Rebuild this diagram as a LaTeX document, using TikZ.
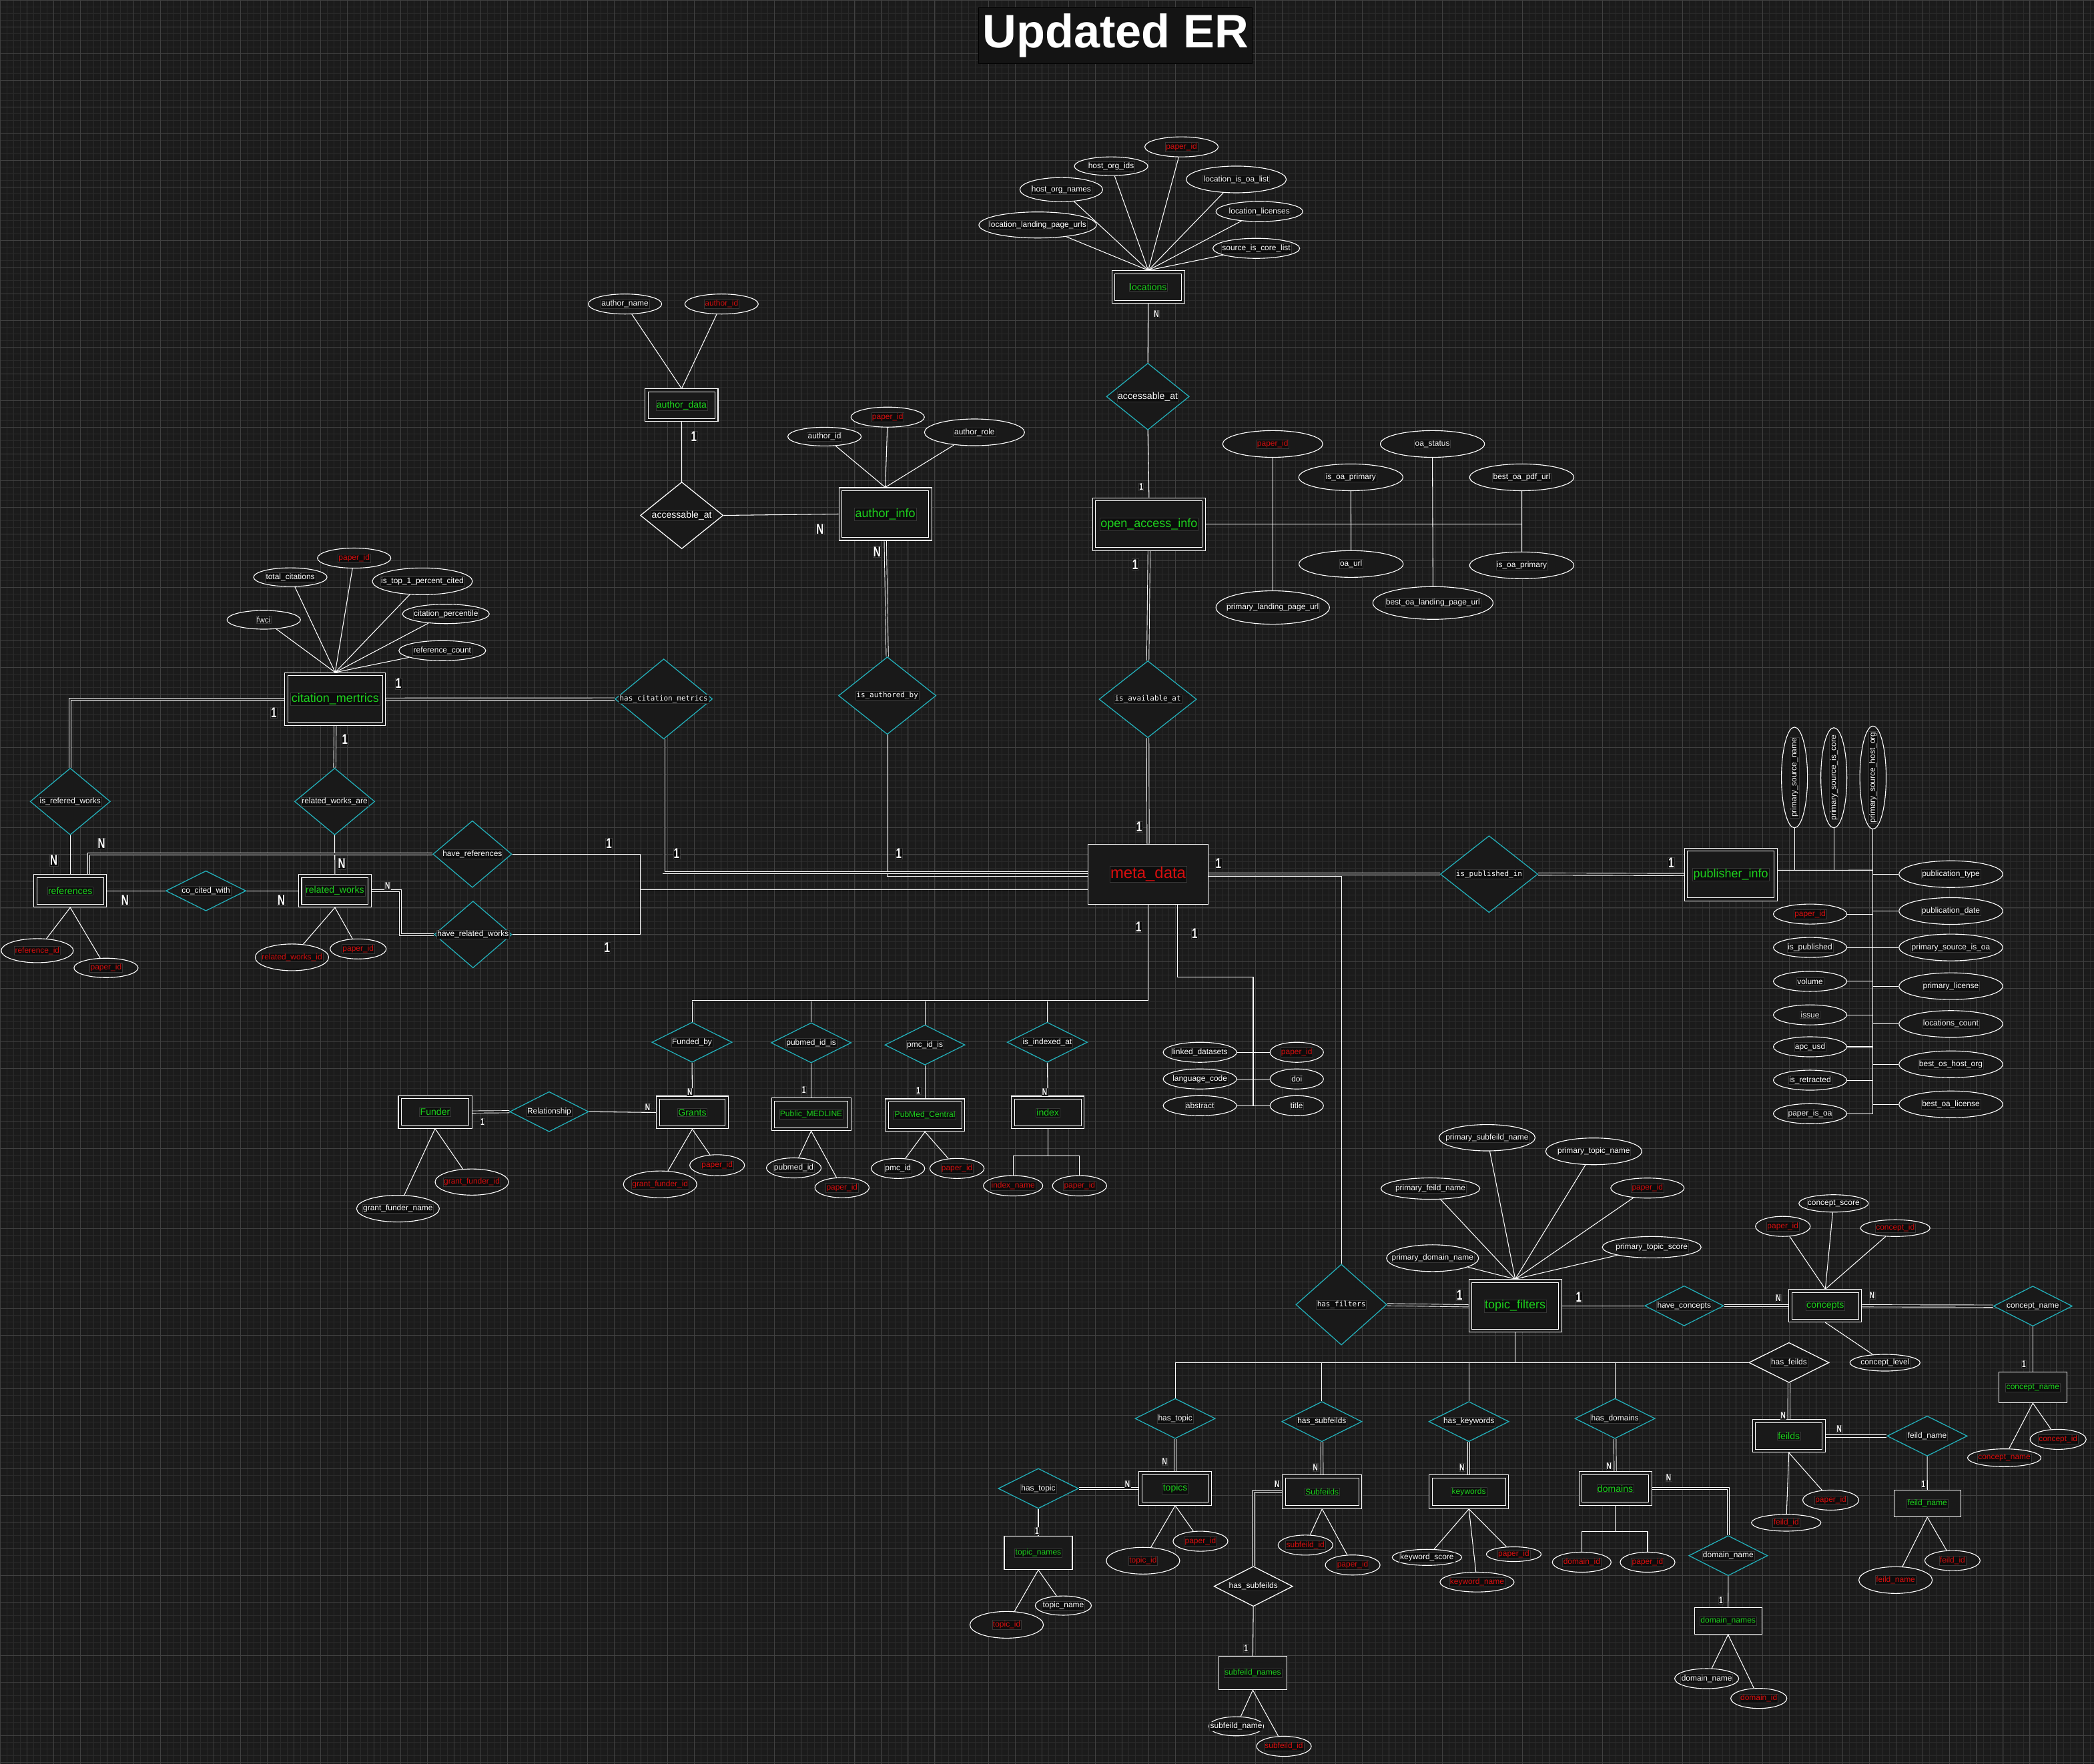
\documentclass[tikz,border=0pt]{standalone}
\usepackage{fontspec}
\usepackage{graphicx}
\setmainfont{Liberation Sans}
\newfontfamily\monofont{DejaVu Sans Mono}
\usetikzlibrary{shapes.geometric}
\definecolor{bgc}{RGB}{27,27,27}
\definecolor{shp}{RGB}{25,25,25}
\definecolor{gmin}{RGB}{42,42,42}
\definecolor{gmaj}{RGB}{64,64,64}
\definecolor{lbg}{RGB}{12,12,12}
\definecolor{lbd}{RGB}{55,55,55}
\definecolor{grn}{RGB}{30,210,30}
\definecolor{rd}{RGB}{215,15,15}
\definecolor{cy}{RGB}{35,175,185}
\definecolor{ttlbg}{RGB}{20,20,20}
\newcommand\sq[1]{\scalebox{0.72}[1]{#1}}
\newcommand\fE{\fontsize{12.8}{13}\selectfont}
\newcommand\fS{\fontsize{8.6}{9}\selectfont}
\newcommand\fR{\fontsize{10}{11}\selectfont}
\newcommand\fM{\monofont\fontsize{7.8}{8}\selectfont}
\pgfdeclarelayer{back}
\pgfdeclarelayer{lines}
\pgfsetlayers{back,lines,main}
\tikzset{
  lab/.style={fill=lbg, draw=lbd, line width=0.3pt, inner sep=0.8pt, text=white},
  fa/.style={font=\fontsize{8.5}{9}\selectfont},
  fe/.style={font=\fontsize{10}{11}\selectfont},
  attrG/.style n args={4}{ellipse, draw=white, line width=0.8pt, fill=shp, minimum width={#1*0.05cm}, minimum height={#2*0.05cm}, inner sep=0pt, label={[lab,fa,text=#4]center:#3}},
  attrA/.style n args={3}{attrG={#1}{#2}{#3}{white}},
  attrK/.style n args={3}{attrG={#1}{#2}{#3}{rd}},
  attrV/.style n args={3}{ellipse, draw=white, line width=0.8pt, fill=shp, minimum width={#1*0.05cm}, minimum height={#2*0.05cm}, inner sep=0pt, label={[lab,fa,rotate=90]center:#3}},
  relG/.style n args={4}{diamond, draw=#4, line width=0.9pt, fill=shp, minimum width={#1*0.05cm}, minimum height={#2*0.05cm}, inner sep=0pt, label={[lab,fa]center:#3}},
  relC/.style n args={3}{relG={#1}{#2}{#3}{cy}},
  relW/.style n args={3}{relG={#1}{#2}{#3}{white}},
  entD/.style n args={3}{rectangle, draw=white, line width=0.75pt, double=shp, double distance=2.5pt, fill=shp, minimum width={#1*0.05cm-4pt}, minimum height={#2*0.05cm-4pt}, inner sep=0pt, outer sep=2pt, label={[lab,fe,text=grn]center:#3}},
  entS/.style n args={3}{rectangle, draw=white, line width=0.85pt, fill=shp, minimum width={#1*0.05cm}, minimum height={#2*0.05cm}, inner sep=0pt, label={[lab,fe,text=grn]center:#3}},
  ln/.style={draw=white, line width=0.75pt},
  dl/.style={draw=white, line width=0.65pt, double=bgc, double distance=1.7pt},
  cb/.style={lab, font=\fontsize{15}{15}\selectfont\bfseries, inner sep=0.6pt},
  cs/.style={lab, font=\fontsize{10}{10}\selectfont\bfseries, inner sep=0.5pt},
}
\begin{document}
\begin{tikzpicture}[x=0.05cm,y=-0.05cm]
\useasboundingbox (0,0) rectangle (1568,1321);
\begin{pgfonlayer}{back}
\fill[bgc] (0,0) rectangle (1568,1321);
\begin{scope}[x=1cm,y=1cm]
\draw[gmin, line width=0.35pt, step=0.25cm] (0,-66.05) grid (78.4,0);
\draw[gmaj, line width=0.5pt, step=1cm] (0,-66.05) grid (78.4,0);
\end{scope}
\end{pgfonlayer}

% ---------- title
\node[fill=ttlbg, draw=black, line width=0.5pt, minimum width={205*0.05cm}, minimum height={42*0.05cm}, inner sep=0pt, text=white, font=\fontsize{50}{50}\selectfont\bfseries] (title) at (835.3,26.5) {Updated ER};

% ---------- locations
\node[entD={55}{25}{locations}] (loc) at (859.8,215) {};
\node[attrK={55}{15}{paper\_id}] (lpid) at (884.7,110) {};
\node[attrA={55}{14}{host\_org\_ids}] (lhoi) at (832,124.5) {};
\node[attrA={62}{18}{host\_org\_names}] (lhon) at (794.7,142) {};
\node[attrA={88}{19.5}{location\_landing\_page\_urls}] (llpu) at (777,168.5) {};
\node[attrA={75}{20}{location\_is\_oa\_list}] (lioa) at (925.7,134.4) {};
\node[attrA={65}{15}{location\_licenses}] (llic) at (943,158.4) {};
\node[attrA={65}{15}{source\_is\_core\_list}] (lsic) at (940.7,186) {};
\node[relC={62}{50}{\fR accessable\_at}] (acc1) at (859.5,297) {};

% ---------- open access info
\node[entD={85}{40}{\fE open\_access\_info}] (oai) at (860.4,392.6) {};
\node[attrK={75}{20}{paper\_id}] (opid) at (953,332.5) {};
\node[attrA={78}{20}{oa\_status}] (oast) at (1072.6,332.5) {};
\node[attrA={78}{20}{is\_oa\_primary}] (iop1) at (1011.5,357.5) {};
\node[attrA={78}{20}{best\_oa\_pdf\_url}] (bopu) at (1139.5,357.5) {};
\node[attrA={78}{20}{oa\_url}] (oaurl) at (1011.7,422.4) {};
\node[attrA={78}{20}{is\_oa\_primary}] (iop2) at (1139.5,423.4) {};
\node[attrA={85}{25}{primary\_landing\_page\_url}] (plpu) at (953,455) {};
\node[attrA={90}{24.5}{best\_oa\_landing\_page\_url}] (bolp) at (1073,451.6) {};

% ---------- authors
\node[attrA={55}{15}{author\_name}] (an) at (468,227.7) {};
\node[attrK={55}{15}{author\_id}] (aid) at (540.3,227.7) {};
\node[entD={55}{25}{author\_data}] (ad) at (510.4,303.5) {};
\node[relW={62}{50}{\fR accessable\_at}] (acc2) at (510.5,386) {};
\node[entD={70}{40}{\fE author\_info}] (ai) at (662.9,385) {};
\node[attrA={55}{14}{author\_id}] (aid2) at (617.4,327) {};
\node[attrK={55}{15}{paper\_id}] (apid) at (664.7,312.4) {};
\node[attrA={75}{20}{author\_role}] (arol) at (729.7,323.8) {};
\node[relC={73}{58}{\fM is\_authored\_by}] (iab) at (664.4,521) {};

% ---------- citation metrics
\node[entD={76}{40}{\fE citation\_mertrics}] (cm) at (251,523.6) {};
\node[attrK={55}{15}{paper\_id}] (cpid) at (265.2,418) {};
\node[attrA={55}{14}{total\_citations}] (ctc) at (217.4,432.3) {};
\node[attrA={75}{20}{is\_top\_1\_percent\_cited}] (ctop) at (316.3,435.4) {};
\node[attrA={55}{14}{fwci}] (cfw) at (197.5,464.2) {};
\node[attrA={65}{14.5}{citation\_percentile}] (cper) at (333.9,459.8) {};
\node[attrA={65}{15}{reference\_count}] (crc) at (331.2,487.3) {};
\node[relC={73}{60}{\fM has\_citation\_metrics}] (hcm) at (497,523.5) {};
\node[relC={60}{50}{is\_refered\_works}] (irw) at (52.6,600.3) {};
\node[relC={60}{50}{related\_works\_are}] (rwa) at (250.6,600.3) {};
\node[entD={55}{25}{references}] (ref) at (52.6,667.2) {};
\node[entD={55}{25}{related\_works}] (rw) at (250.8,667.2) {};
\node[relC={60}{30}{co\_cited\_with}] (cc) at (154.2,667.2) {};
\node[relC={59}{50}{have\_references}] (hr) at (353.7,639.7) {};
\node[relC={58}{50}{have\_related\_works}] (hrw) at (354.2,699.9) {};
\node[attrK={54}{18}{reference\_id}] (rfid) at (27.9,712) {};
\node[attrK={48}{14.5}{paper\_id}] (rfpid) at (79.4,724.9) {};
\node[attrK={55}{20}{related\_works\_id}] (rwid) at (218.6,717) {};
\node[attrK={42}{15}{paper\_id}] (rwpid) at (268.2,710.7) {};

% ---------- meta data
\node[relC={73}{57.5}{\fM is\_available\_at}] (iaa) at (859.5,523.7) {};
\node[entS={90}{45}{\fontsize{17}{18}\selectfont\textcolor{rd}{meta\_data}}] (md) at (859.7,654.7) {};
\node[relC={73}{57.5}{\fM is\_published\_in}] (ipi) at (1115,654.7) {};
\node[entD={70}{40}{\fE publisher\_info}] (pub) at (1296,655) {};

% ---------- publisher attributes
\node[attrV={19.5}{75.4}{primary\_source\_name}] (psn) at (1343.7,582.3) {};
\node[attrV={19.5}{75}{primary\_source\_is\_core}] (psic) at (1373.2,582.5) {};
\node[attrV={19.7}{77}{primary\_source\_host\_org}] (psho) at (1402.5,582.3) {};
\node[attrA={77.6}{20}{publication\_type}] (pt) at (1460.8,654.7) {};
\node[attrA={77.6}{20}{publication\_date}] (pd) at (1460.8,682.3) {};
\node[attrA={77.6}{20}{primary\_source\_is\_oa}] (psoa) at (1460.8,709.6) {};
\node[attrA={77.6}{20}{primary\_license}] (pl) at (1460.8,738.6) {};
\node[attrA={77.6}{20}{locations\_count}] (lcn) at (1460.8,766.9) {};
\node[attrA={77.6}{20}{best\_os\_host\_org}] (bos) at (1460.8,797.1) {};
\node[attrA={77.6}{20}{best\_oa\_license}] (bol) at (1460.8,827.1) {};
\node[attrK={55}{15}{paper\_id}] (ppid) at (1355.4,684.6) {};
\node[attrA={55}{15}{is\_published}] (isp) at (1355.4,709.6) {};
\node[attrA={55}{15}{volume}] (vol) at (1355.4,735) {};
\node[attrA={55}{15}{issue}] (iss) at (1355.4,760.1) {};
\node[attrA={55}{15}{apc\_usd}] (apc) at (1355.4,784) {};
\node[attrA={55}{15}{is\_retracted}] (isr) at (1355.4,809) {};
\node[attrA={55}{15}{paper\_is\_oa}] (pio) at (1355.4,834.1) {};

% ---------- meta data lower
\node[relC={60}{30}{Funded\_by}] (fb) at (518.2,780.6) {};
\node[relC={60}{30}{pubmed\_id\_is}] (pmi) at (607.4,781) {};
\node[relC={60}{30}{pmc\_id\_is}] (pci) at (692.6,782.6) {};
\node[relC={60}{30}{is\_indexed\_at}] (iia) at (784.2,780.6) {};
\node[entD={55.5}{25}{Funder}] (fu) at (325.8,832.8) {};
\node[relC={59}{30}{Relationship}] (rel) at (411.2,832.6) {};
\node[entD={54.5}{25}{Grants}] (gr) at (518.4,833.2) {};
\node[entD={60}{25}{\fS Public\_MEDLINE}] (pm) at (607.4,834.6) {};
\node[entD={60}{25}{\fS PubMed\_Central}] (pc) at (692.6,835.2) {};
\node[entD={55}{25}{index}] (idx) at (784.6,833.2) {};
\node[attrK={55}{19.6}{grant\_funder\_id}] (gfi) at (353.3,885.3) {};
\node[attrA={62}{20}{grant\_funder\_name}] (gfn) at (298,905.2) {};
\node[attrK={55}{20}{grant\_funder\_id}] (ggfi) at (494.3,887) {};
\node[attrK={41}{15.7}{paper\_id}] (gpid) at (537,872.7) {};
\node[attrA={41}{15}{pubmed\_id}] (pmid) at (594.4,874.7) {};
\node[attrK={40.6}{15}{paper\_id}] (pmpid) at (630.5,889.5) {};
\node[attrA={40}{15}{pmc\_id}] (pcid) at (672.4,875.1) {};
\node[attrK={40.6}{15}{paper\_id}] (pcpid) at (716.6,875.1) {};
\node[attrK={44.5}{15.2}{index\_name}] (ixn) at (758.6,888.1) {};
\node[attrK={40.6}{15.2}{paper\_id}] (ixp) at (808.4,888.1) {};
\node[attrA={55}{15}{linked\_datasets}] (lda) at (898.5,788.1) {};
\node[attrA={55}{15}{language\_code}] (lcd) at (898.5,808.1) {};
\node[attrA={55}{15}{abstract}] (abs) at (898.5,828.1) {};
\node[attrK={40}{15}{paper\_id}] (mpid) at (971,788.1) {};
\node[attrA={40}{15}{doi}] (doi) at (971,808.1) {};
\node[attrA={40}{15}{title}] (ttl) at (971,828.1) {};

% ---------- topic filters
\node[relC={68}{60.5}{\fM has\_filters}] (hf) at (1004.4,977.1) {};
\node[entD={70}{40}{\fE topic\_filters}] (tf) at (1134.6,978) {};
\node[attrA={72}{19.7}{primary\_subfeild\_name}] (tpsn) at (1113.5,852.1) {};
\node[attrA={72}{20}{primary\_topic\_name}] (tptn) at (1193.4,862.3) {};
\node[attrA={74}{16}{primary\_feild\_name}] (tpfn) at (1071.1,890.2) {};
\node[attrK={55}{15}{paper\_id}] (tpid) at (1233.6,889.8) {};
\node[attrA={74}{16}{primary\_topic\_score}] (tpts) at (1236.8,934.1) {};
\node[attrA={69}{20}{primary\_domain\_name}] (tpdn) at (1072.7,942.3) {};
\node[relC={59}{30}{have\_concepts}] (hc) at (1261.1,978) {};
\node[entD={55}{25}{concepts}] (con) at (1366.8,978) {};
\node[relC={59}{30}{concept\_name}] (cn) at (1522.2,978.2) {};
\node[entS={51}{23}{\fS concept\_name}] (cne) at (1522.2,1039.1) {};
\node[attrA={52}{13}{concept\_score}] (csc) at (1373,901.3) {};
\node[attrK={41}{15}{paper\_id}] (cpid2) at (1335,918.5) {};
\node[attrK={52}{12.5}{concept\_id}] (cid) at (1419.2,919.8) {};
\node[attrA={52.5}{12.5}{concept\_level}] (clv) at (1411.5,1020.6) {};
\node[attrK={55}{13.3}{concept\_name}] (cnn) at (1500.8,1091.8) {};
\node[attrK={42}{15}{concept\_id}] (cni) at (1541.1,1078) {};
\node[relW={60}{30}{has\_feilds}] (hfd) at (1339.6,1020.5) {};
\node[entD={55}{25}{feilds}] (fd) at (1339.5,1075.5) {};
\node[relC={60}{30}{feild\_name}] (fn) at (1443.1,1075.5) {};
\node[entS={50}{20}{\fS feild\_name}] (fne) at (1443.2,1126) {};
\node[attrK={42}{15}{paper\_id}] (fpid) at (1370.9,1123.5) {};
\node[attrK={52}{12.5}{feild\_id}] (fid) at (1337.5,1140.5) {};
\node[attrK={55}{20}{feild\_name}] (fnn) at (1419.4,1183.4) {};
\node[attrK={41.4}{15}{feild\_id}] (fni) at (1462,1168.8) {};

% ---------- bottom
\node[relC={60}{30}{has\_topic}] (ht) at (880,1062.4) {};
\node[relC={60}{30}{has\_subfeilds}] (hsf) at (989.8,1064.7) {};
\node[relC={60}{30}{has\_keywords}] (hk) at (1099.9,1064.7) {};
\node[relC={60}{30}{has\_domains}] (hd) at (1209.3,1062.4) {};
\node[entD={55}{25.6}{topics}] (tp) at (880,1114.8) {};
\node[entD={60}{25.7}{\fS Subfeilds}] (sf) at (990,1117.3) {};
\node[entD={60}{25.7}{\fS keywords}] (kw) at (1099.9,1117.3) {};
\node[entD={55}{25.6}{domains}] (dm) at (1209.5,1114.8) {};
\node[relC={60}{30}{has\_topic}] (ht2) at (777.5,1114.8) {};
\node[entS={51}{25}{\fS topic\_names}] (tn) at (777.5,1163) {};
\node[attrK={55}{20}{topic\_id}] (tni) at (753.8,1216.9) {};
\node[attrA={42}{14.4}{topic\_name}] (tnn) at (796.2,1202.5) {};
\node[attrK={55}{20}{topic\_id}] (tpi) at (855.9,1168.9) {};
\node[attrK={41}{15}{paper\_id}] (tpp) at (898.9,1154.3) {};
\node[attrK={41}{15}{subfeild\_id}] (sfi) at (977.5,1157.2) {};
\node[attrK={41}{15}{paper\_id}] (sfp) at (1012.9,1172.1) {};
\node[relW={59}{30}{has\_subfeilds}] (hsf2) at (938.5,1188.1) {};
\node[entS={51}{25}{\fS subfeild\_names}] (sfn) at (938.1,1253) {};
\node[attrA={41}{14.3}{subfeild\_name}] (sfnn) at (925.7,1292.9) {};
\node[attrK={41}{15}{subfeild\_id}] (sfni) at (961.4,1307.9) {};
\node[attrA={52}{12}{keyword\_score}] (ksc) at (1068.5,1166.4) {};
\node[attrK={41}{11}{paper\_id}] (kpid) at (1133.5,1164) {};
\node[attrK={55.5}{14.8}{keyword\_name}] (knm) at (1106,1184.9) {};
\node[attrK={44}{15}{domain\_id}] (dmi) at (1184.4,1170) {};
\node[attrK={41}{15}{paper\_id}] (dmp) at (1233.7,1170) {};
\node[relC={59}{30}{domain\_name}] (dn) at (1294.1,1165.1) {};
\node[entS={50.5}{20}{\fS domain\_names}] (dne) at (1294,1214) {};
\node[attrA={48}{15}{domain\_name}] (dnn) at (1278,1257.2) {};
\node[attrK={42}{15}{domain\_id}] (dni) at (1317,1272) {};

% ---------- cardinalities
\node[cs] (k1) at (866,235) {\sq{N}};
\node[cs] (k2) at (854.5,364.8) {\sq{1}};
\node[cb] (k3) at (850,422.6) {\sq{1}};
\node[cb] (k4) at (519.6,327) {\sq{1}};
\node[cb] (k5) at (614,396.4) {\sq{N}};
\node[cb] (k6) at (656.7,413.4) {\sq{N}};
\node[cb] (k7) at (673,639.3) {\sq{1}};
\node[cb] (k8) at (298.3,512) {\sq{1}};
\node[cb] (k9) at (205,533.6) {\sq{1}};
\node[cb] (k10) at (258.3,553.6) {\sq{1}};
\node[cb] (k11) at (506.6,639.3) {\sq{1}};
\node[cb] (k12) at (40.3,644.4) {\sq{N}};
\node[cb] (k13) at (76,631.8) {\sq{N}};
\node[cb] (k14) at (255.9,646.9) {\sq{N}};
\node[cb] (k15) at (93.6,674.1) {\sq{N}};
\node[cb] (k16) at (210.7,674.1) {\sq{N}};
\node[cs] (k17) at (290.2,663.6) {\sq{N}};
\node[cb] (k18) at (456,631.8) {\sq{1}};
\node[cb] (k19) at (454.6,709.8) {\sq{1}};
\node[cb] (k20) at (853,619.3) {\sq{1}};
\node[cb] (k21) at (912.3,646.8) {\sq{1}};
\node[cb] (k22) at (1251.3,646.3) {\sq{1}};
\node[cb] (k23) at (852.6,694) {\sq{1}};
\node[cb] (k24) at (894.6,699.3) {\sq{1}};
\node[cs] (k25) at (361.2,840.3) {\sq{1}};
\node[cs] (k26) at (485,829.3) {\sq{N}};
\node[cs] (k27) at (516.5,818) {\sq{N}};
\node[cs] (k28) at (602,816.2) {\sq{1}};
\node[cs] (k29) at (687.7,816.6) {\sq{1}};
\node[cs] (k30) at (782.3,818) {\sq{N}};
\node[cb] (k31) at (1093,969.9) {\sq{1}};
\node[cb] (k32) at (1182.1,971.4) {\sq{1}};
\node[cs] (k33) at (1331.6,972.4) {\sq{N}};
\node[cs] (k34) at (1401.9,970.2) {\sq{N}};
\node[cs] (k35) at (1515.5,1021.5) {\sq{1}};
\node[cs] (k36) at (1335.3,1060.2) {\sq{N}};
\node[cs] (k37) at (1377.2,1070.2) {\sq{N}};
\node[cs] (k38) at (1440.2,1111.8) {\sq{1}};
\node[cs] (k39) at (872.1,1094.8) {\sq{N}};
\node[cs] (k40) at (985,1098.9) {\sq{N}};
\node[cs] (k41) at (1094.7,1098.9) {\sq{N}};
\node[cs] (k42) at (1204.8,1098.3) {\sq{N}};
\node[cs] (k43) at (844.2,1111.8) {\sq{N}};
\node[cs] (k44) at (776.5,1146.5) {\sq{1}};
\node[cs] (k45) at (956.3,1111.8) {\sq{N}};
\node[cs] (k46) at (933,1234.3) {\sq{1}};
\node[cs] (k47) at (1249.5,1106.5) {\sq{N}};
\node[cs] (k48) at (1288.6,1198.8) {\sq{1}};

% ---------- helper coordinates
\coordinate (brk) at (479.5,666.3);
\coordinate (rwc) at (299.7,683);
\coordinate (busR) at (859.7,750.2);
\coordinate (mdc) at (938.4,732);
\coordinate (mdc2) at (938.4,828.1);
\coordinate (sp1) at (1402.5,651.7);
\coordinate (sp2) at (1402.5,834.1);
\coordinate (idxc) at (784.6,865.7);
\coordinate (dmc) at (1209.5,1147.1);

\begin{pgfonlayer}{lines}
% locations
\foreach \n in {lpid,lhoi,lhon,llpu,lioa,llic,lsic} \draw[ln] (loc.north) -- (\n);
\draw[ln] (loc.south) -- (acc1.north);
\draw[ln] (acc1.south) -- (oai.north);
% open access
\draw[ln] (oai.east) -- (oai.east -| bopu.south);
\draw[ln] (opid.south) -- (plpu.north);
\draw[ln] (iop1.south) -- (oaurl.north);
\draw[ln] (oast.south) -- (bolp.north);
\draw[ln] (bopu.south) -- (iop2.north);
\draw[dl] (oai.south) -- (iaa.north);
\draw[dl] (iaa.south) -- (md.north);
% authors
\draw[ln] (ad.north) -- (an);
\draw[ln] (ad.north) -- (aid);
\draw[ln] (ad.south) -- (acc2.north);
\draw[ln] (acc2.east) -- (ai.west);
\foreach \n in {aid2,apid,arol} \draw[ln] (ai.north) -- (\n);
\draw[dl] (ai.south) -- (iab.north);
\draw[ln] (iab.south) |- ([yshift=-2.5pt]md.west);
% citation
\foreach \n in {cpid,ctc,ctop,cfw,cper,crc} \draw[ln] (cm.north) -- (\n);
\draw[dl] (cm.east) -- (hcm.west);
\draw[dl] (hcm.south) |- ([yshift=1.5pt]md.west);
\draw[dl] (cm.west) -| (irw.north);
\draw[dl] (cm.south) -- (rwa.north);
\draw[ln] (irw.south) -- (ref.north);
\draw[ln] (rwa.south) -- (rw.north);
\draw[ln] (ref.east) -- (cc.west);
\draw[ln] (cc.east) -- (rw.west);
\draw[dl] ([xshift=19.9pt]ref.north) |- (hr.west);
\draw[ln] (hr.east) -| (brk) |- (hrw.east);
\draw[ln] (brk) -- (brk -| md.west);
\draw[dl] (rw.east) -| (rwc) |- (hrw.west);
\draw[ln] (ref.south) -- (rfid);
\draw[ln] (ref.south) -- (rfpid);
\draw[ln] (rw.south) -- (rwid);
\draw[ln] (rw.south) -- (rwpid);
% meta data right
\draw[dl] (md.east) -- (ipi.west);
\draw[dl] (ipi.east) -- (pub.west);
\draw[ln] ([yshift=-2.2pt]md.east) -| (hf.north);
% publisher
\draw[ln] ([yshift=4.6pt]pub.east) -- (sp1);
\draw[ln] (psho.south) -- (sp2);
\draw[ln] (psn.south) -- (psn.south |- sp1);
\draw[ln] (psic.south) -- (psic.south |- sp1);
\foreach \n in {pt,pd,psoa,pl,lcn,bos,bol} \draw[ln] (sp1 |- \n.west) -- (\n.west);
\foreach \n in {ppid,isp,vol,iss,apc,isr,pio} \draw[ln] (\n.east) -- (\n.east -| sp1);
% meta data lower
\draw[ln] (md.south) -- (busR);
\draw[dl] (busR) -- (busR -| fb.north);
\foreach \n in {fb,pmi,pci,iia} \draw[ln] (busR -| \n.north) -- (\n.north);
\draw[ln] (fb.south) -- (gr.north);
\draw[ln] (pmi.south) -- (pm.north);
\draw[ln] (pci.south) -- (pc.north);
\draw[ln] (iia.south) -- (idx.north);
\draw[dl] (fu.east) -- (rel.west);
\draw[ln] (rel.east) -- (gr.west);
\draw[ln] (fu.south) -- (gfi);
\draw[ln] (fu.south) -- (gfn);
\draw[ln] (gr.south) -- (ggfi);
\draw[ln] (gr.south) -- (gpid);
\draw[ln] (pm.south) -- (pmid);
\draw[ln] (pm.south) -- (pmpid);
\draw[ln] (pc.south) -- (pcid);
\draw[ln] (pc.south) -- (pcpid);
\draw[ln] (idx.south) -- (idxc);
\draw[ln] (ixn.north) |- (idxc) -| (ixp.north);
\draw[ln] ([xshift=31.3pt]md.south) |- (mdc) -- (mdc2);
\draw[ln] (lda.east) -- (mpid.west);
\draw[ln] (lcd.east) -- (doi.west);
\draw[ln] (abs.east) -- (ttl.west);
% topic filters
\draw[dl] (hf.east) -- (tf.west);
\foreach \n in {tpsn,tptn,tpfn,tpid,tpts,tpdn} \draw[ln] (tf.north) -- (\n);
\draw[ln] (tf.east) -- (hc.west);
\draw[dl] (hc.east) -- (con.west);
\draw[dl] (con.east) -- (cn.west);
\draw[ln] (cn.south) -- (cne.north);
\foreach \n in {csc,cpid2,cid} \draw[ln] (con.north) -- (\n);
\draw[ln] (con.south) -- (clv);
\draw[ln] (cne.south) -- (cnn);
\draw[ln] (cne.south) -- (cni);
\draw[ln] (tf.south) -- (tf.south |- hfd.west);
\draw[ln] (hfd.west) -| (ht.north);
\foreach \n in {hsf,hk,hd} \draw[ln] (hfd.west -| \n.north) -- (\n.north);
\draw[dl] (hfd.south) -- (fd.north);
\draw[dl] (fd.east) -- (fn.west);
\draw[ln] (fn.south) -- (fne.north);
\draw[ln] (fd.south) -- (fpid);
\draw[ln] (fd.south) -- (fid);
\draw[ln] (fne.south) -- (fnn);
\draw[ln] (fne.south) -- (fni);
% bottom
\draw[dl] (ht.south) -- (tp.north);
\draw[dl] (hsf.south) -- (sf.north);
\draw[dl] (hk.south) -- (kw.north);
\draw[dl] (hd.south) -- (dm.north);
\draw[dl] (ht2.east) -- (tp.west);
\draw[ln] (ht2.south) -- (tn.north);
\draw[ln] (tn.south) -- (tni);
\draw[ln] (tn.south) -- (tnn);
\draw[ln] (tp.south) -- (tpi);
\draw[ln] (tp.south) -- (tpp);
\draw[ln] (sf.south) -- (sfi);
\draw[ln] (sf.south) -- (sfp);
\draw[dl] (sf.west) -| (hsf2.north);
\draw[ln] (hsf2.south) -- (sfn.north);
\draw[ln] (sfn.south) -- (sfnn);
\draw[ln] (sfn.south) -- (sfni);
\draw[ln] (kw.south) -- (ksc);
\draw[ln] (kw.south) -- (kpid);
\draw[ln] (kw.south) -- (knm);
\draw[ln] (dm.south) -- (dmc);
\draw[ln] (dmi.north) |- (dmc) -| (dmp.north);
\draw[dl] (dm.east) -| (dn.north);
\draw[ln] (dn.south) -- (dne.north);
\draw[ln] (dne.south) -- (dnn);
\draw[ln] (dne.south) -- (dni);
\end{pgfonlayer}
\end{tikzpicture}
\end{document}
